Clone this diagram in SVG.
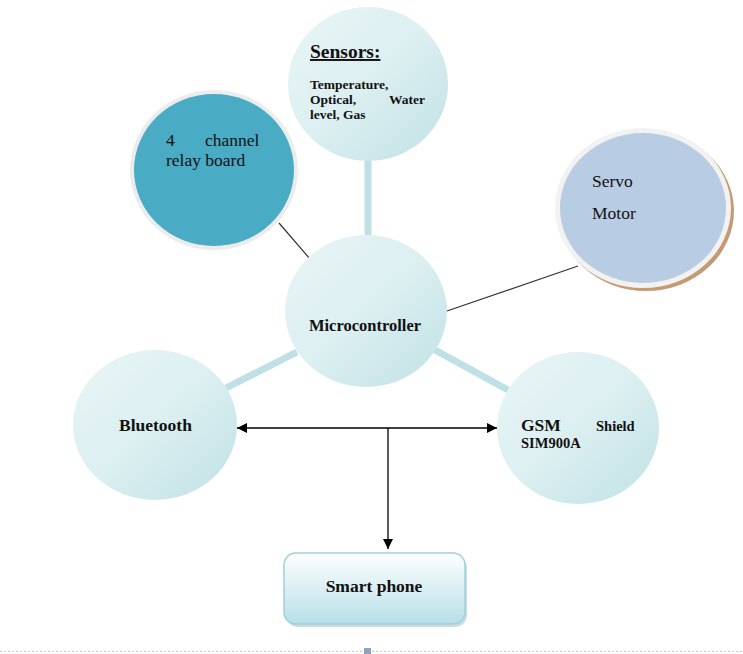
<svg xmlns="http://www.w3.org/2000/svg" width="743" height="654" viewBox="0 0 743 654">
<defs>
<linearGradient id="lb" x1="0" y1="0" x2="1" y2="1">
<stop offset="0" stop-color="#e9f5f6"/>
<stop offset="0.5" stop-color="#dceff1"/>
<stop offset="1" stop-color="#bfe1e5"/>
</linearGradient>
<linearGradient id="box" x1="0" y1="0" x2="0" y2="1">
<stop offset="0" stop-color="#ffffff"/>
<stop offset="1" stop-color="#b7dfe7"/>
</linearGradient>
<clipPath id="sclip"><rect x="290" y="0" width="135" height="170"/></clipPath>
<marker id="ah" viewBox="0 0 10 10" refX="10" refY="5" markerWidth="10" markerHeight="10" markerUnits="userSpaceOnUse" orient="auto-start-reverse">
<path d="M0,0 L10,5 L0,10 z" fill="#000"/>
</marker>
<style>
.lb{fill:url(#lb);}
.thick{stroke:#bfe0e4;stroke-width:7;fill:none;}
.thin{stroke:#333;stroke-width:1.2;fill:none;}
.arr{stroke:#000;stroke-width:1.3;fill:none;}
.b{font-family:"Liberation Serif",serif;font-weight:bold;fill:#111;}
.r{font-family:"Liberation Serif",serif;fill:#111;}
</style>
</defs>
<g id="connectors">
<line class="thick" x1="368" y1="155" x2="368" y2="238"/>
<line class="thick" x1="297" y1="352" x2="226" y2="388"/>
<line class="thick" x1="435" y1="350" x2="508" y2="390"/>
<line class="thin" x1="279" y1="223" x2="310" y2="259"/>
<line class="thin" x1="578" y1="266" x2="447" y2="311"/>
<line class="arr" x1="237" y1="428" x2="497" y2="428" marker-start="url(#ah)" marker-end="url(#ah)"/>
<line class="arr" x1="388" y1="428" x2="388" y2="549" marker-end="url(#ah)"/>
</g>
<g id="sensors">
<ellipse class="lb" cx="368" cy="84" rx="80" ry="77"/>
<text class="b" x="310" y="58" font-size="19.5" text-decoration="underline">Sensors:</text>
<g clip-path="url(#sclip)">
<text class="b" x="310" y="89" font-size="13.5">Temperature,</text>
<text class="b" x="310" y="104" font-size="13.5">Optical,</text>
<text class="b" x="389" y="104" font-size="13.5">Water</text>
<text class="b" x="310" y="119" font-size="13.5">level, Gas</text>
</g>
</g>
<g id="relay">
<ellipse cx="214" cy="170" rx="84" ry="80" fill="#ececec"/>
<ellipse cx="214" cy="170" rx="80" ry="76" fill="#4aabc5"/>
<text class="r" x="166" y="146" font-size="17.5">4</text>
<text class="r" x="205" y="146" font-size="17.5">channel</text>
<text class="r" x="166" y="166" font-size="17.5">relay board</text>
</g>
<g id="servo">
<ellipse cx="646" cy="211" rx="88" ry="80" fill="#c49a74"/>
<ellipse cx="643" cy="208" rx="88" ry="80" fill="#f2f2f2"/>
<ellipse cx="643" cy="208" rx="83" ry="75" fill="#b8cce4"/>
<text class="r" x="592" y="187" font-size="17.5">Servo</text>
<text class="r" x="592" y="219" font-size="17.5">Motor</text>
</g>
<g id="microcontroller">
<ellipse class="lb" cx="366" cy="311" rx="81" ry="76"/>
<text class="b" x="365" y="331" font-size="16.5" text-anchor="middle">Microcontroller</text>
</g>
<g id="bluetooth">
<ellipse class="lb" cx="155" cy="425" rx="82" ry="75"/>
<text class="b" x="119" y="431" font-size="17.5">Bluetooth</text>
</g>
<g id="gsm">
<ellipse class="lb" cx="578" cy="428" rx="81" ry="76"/>
<text class="b" x="521" y="431" font-size="17.5">GSM</text>
<text class="b" x="596" y="431" font-size="14.5">Shield</text>
<text class="b" x="521" y="448" font-size="14.5">SIM900A</text>
</g>
<g id="smartphone">
<rect x="286" y="556" width="181" height="71" rx="12" fill="#a9c6cf" opacity="0.6"/>
<rect x="284" y="553" width="181" height="71" rx="12" fill="url(#box)" stroke="#9fd0dc" stroke-width="1.5"/>
<text class="b" x="374" y="592" font-size="17.5" text-anchor="middle">Smart phone</text>
</g>
<line x1="0" y1="651.5" x2="743" y2="651.5" stroke="#c8c8c8" stroke-width="1" stroke-dasharray="2,2"/>
<rect x="364" y="648" width="7" height="6" fill="#8fa3c0"/>
</svg>
